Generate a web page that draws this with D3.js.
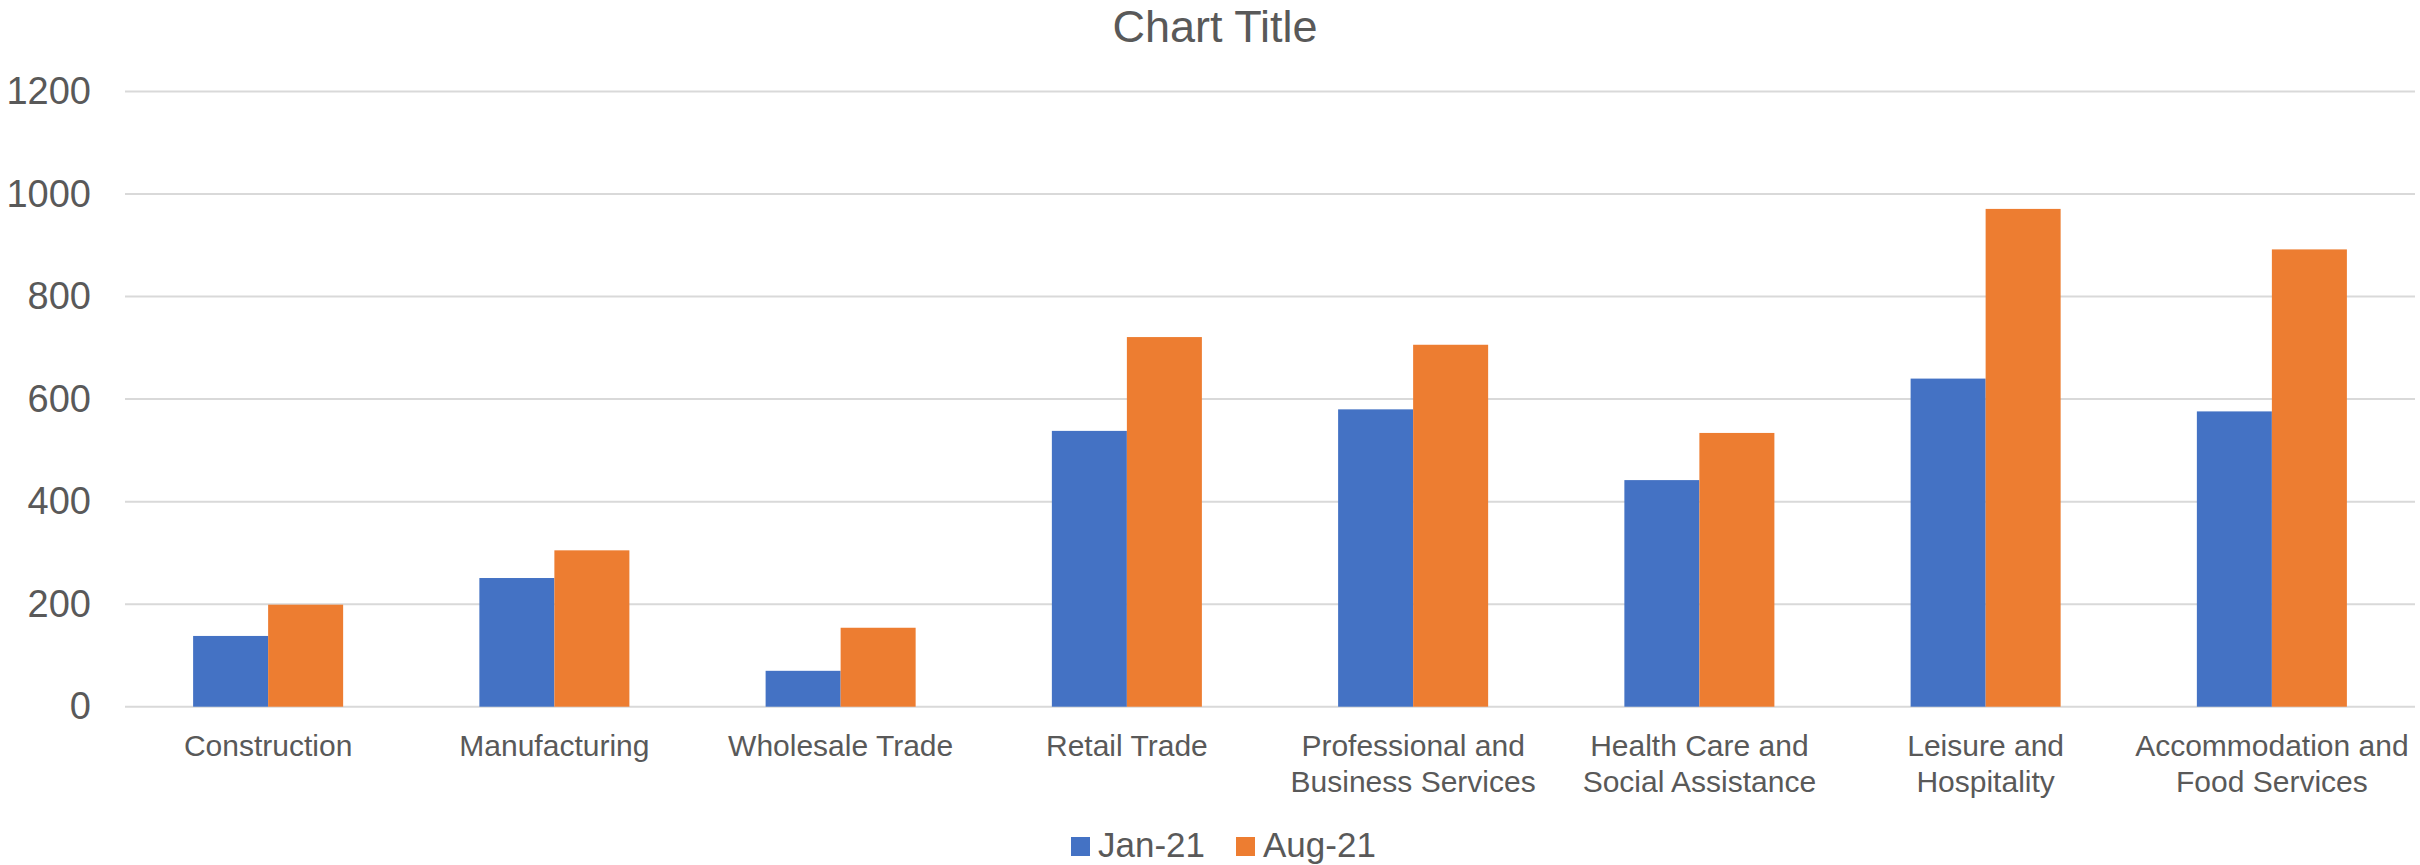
<!DOCTYPE html>
<html>
<head>
<meta charset="utf-8">
<script src="https://cdn.jsdelivr.net/npm/d3@7"></script>
<style>
  body { margin: 0; background: #fff; }
  svg text { font-family: "Liberation Sans", Arial, sans-serif; fill: #595959; }
</style>
</head>
<body>
<svg id="chart" width="2420" height="865"></svg>
<script>
const categories = [
  'Construction', 'Manufacturing', 'Wholesale Trade', 'Retail Trade',
  'Professional and Business Services', 'Health Care and Social Assistance',
  'Leisure and Hospitality', 'Accommodation and Food Services'
];
// wrapped lines as shown under the axis
const categoryLines = [
  ['Construction'], ['Manufacturing'], ['Wholesale Trade'], ['Retail Trade'],
  ['Professional and', 'Business Services'], ['Health Care and', 'Social Assistance'],
  ['Leisure and', 'Hospitality'], ['Accommodation and', 'Food Services']
];
const seriesNames = ['Jan-21', 'Aug-21'];
const jan21 = [138, 251, 70, 538, 580, 442, 640, 576];
const aug21 = [199, 305, 154, 721, 706, 534, 971, 892];
const yTicks = [0, 200, 400, 600, 800, 1000, 1200];
const colors = ['#4472C4', '#ED7D31'];

const svg = d3.select('#chart');

const x0 = d3.scaleBand().domain(categories).range([125, 2415]).paddingInner(0).paddingOuter(0);
const x1 = d3.scaleBand().domain(seriesNames).range([0, x0.bandwidth()]).paddingInner(0).paddingOuter(0.908);
const y = d3.scaleLinear().domain([0, 1200]).range([706.7, 91.5]);

// gridlines
svg.append('g')
  .selectAll('line')
  .data(yTicks)
  .enter()
  .append('line')
  .attr('x1', 125)
  .attr('x2', 2415)
  .attr('y1', (d) => y(d))
  .attr('y2', (d) => y(d))
  .attr('stroke', '#d9d9d9')
  .attr('stroke-width', 2);

// y axis labels
const yAxis = d3.axisLeft(y).tickValues(yTicks).tickSize(0).tickPadding(0).tickFormat(d3.format('d'));
const yg = svg.append('g').attr('transform', 'translate(91,0)').call(yAxis);
yg.select('.domain').remove();
yg.selectAll('text').style('font-size', '38px').attr('fill', '#595959');

// bars
const rows = categories.map((c, i) => ({ cat: c, values: [jan21[i], aug21[i]] }));
const groups = svg.append('g')
  .selectAll('g')
  .data(rows)
  .enter()
  .append('g')
  .attr('transform', (d) => `translate(${x0(d.cat)},0)`);

groups.selectAll('rect')
  .data((d) => d.values.map((v, k) => ({ key: seriesNames[k], value: v, k: k })))
  .enter()
  .append('rect')
  .attr('x', (d) => x1(d.key))
  .attr('width', x1.bandwidth())
  .attr('y', (d) => y(d.value))
  .attr('height', (d) => y(0) - y(d.value))
  .attr('fill', (d) => colors[d.k]);

// category labels
const labels = svg.append('g')
  .selectAll('text')
  .data(categories)
  .enter()
  .append('text')
  .attr('x', (d) => x0(d) + x0.bandwidth() / 2)
  .attr('y', 756)
  .attr('text-anchor', 'middle')
  .style('font-size', '30px');

labels.each(function (d, i) {
  const t = d3.select(this);
  categoryLines[i].forEach((line, j) => {
    t.append('tspan')
      .attr('x', x0(d) + x0.bandwidth() / 2)
      .attr('dy', j === 0 ? 0 : 36)
      .text(line);
  });
});

// title
svg.append('text')
  .attr('x', 1215)
  .attr('y', 42)
  .attr('text-anchor', 'middle')
  .style('font-size', '45px')
  .text('Chart Title');

// legend
const legendX = [1071, 1236];
const legend = svg.append('g')
  .selectAll('g')
  .data(seriesNames)
  .enter()
  .append('g')
  .attr('transform', (d, i) => `translate(${legendX[i]},0)`);

legend.append('rect')
  .attr('x', 0)
  .attr('y', 837)
  .attr('width', 19)
  .attr('height', 19)
  .attr('fill', (d, i) => colors[i]);

legend.append('text')
  .attr('x', 27)
  .attr('y', 857)
  .style('font-size', '35px')
  .text((d) => d);
</script>
</body>
</html>
